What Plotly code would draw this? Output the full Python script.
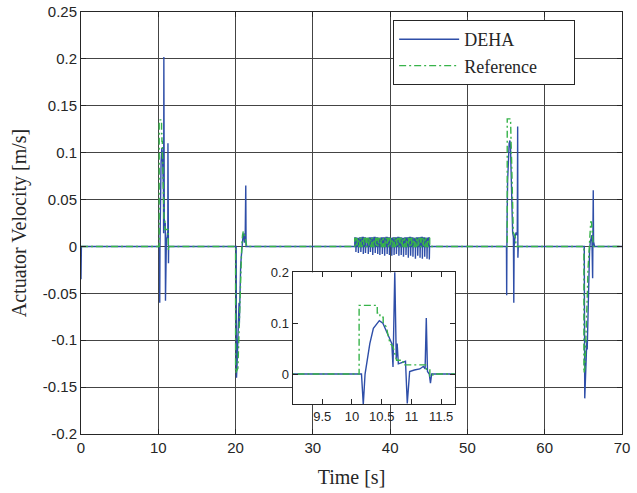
import plotly.graph_objects as go

# ---------------- data ----------------
# DEHA (measured actuator velocity), event by event [s], [m/s]
deha_t_start = [0.0, 0.05]
deha_v_start = [-0.035, 0.0]

deha_t_10 = [10.16, 10.19, 10.22, 10.25, 10.30, 10.36, 10.46, 10.52, 10.58, 10.64, 10.67, 10.69,
             10.72, 10.745, 10.76, 10.78, 10.84, 10.90, 10.93, 10.97, 11.05, 11.14, 11.20, 11.23,
             11.25, 11.27, 11.30, 11.32, 11.34]
deha_v_10 = [0.0, -0.060, 0.0, 0.02, 0.06, 0.09, 0.105, 0.10, 0.085, 0.07, 0.06, 0.014,
             0.202, 0.03, 0.06, 0.02, 0.022, 0.025, -0.058, 0.005, 0.008, 0.01, 0.015, 0.01,
             0.11, 0.005, 0.0, -0.018, 0.0]

deha_t_20 = [20.08, 20.12, 20.2, 20.3, 20.4, 20.45, 20.48, 20.55, 20.6, 20.66, 20.75, 20.85,
             20.95, 21.05, 21.15, 21.25, 21.32, 21.36]
deha_v_20 = [0.0, -0.14, -0.125, -0.1, -0.075, -0.06, -0.085, -0.045, -0.05, -0.02, -0.01, 0.005,
             0.01, 0.014, 0.004, 0.012, 0.065, 0.0]

deha_t_55 = [55.05, 55.08, 55.12, 55.2, 55.3, 55.4, 55.5, 55.58, 55.65, 55.72, 55.78, 55.85,
             55.95, 56.0, 56.04, 56.15, 56.3, 56.45, 56.5, 56.53, 56.58]
deha_v_55 = [0.0, -0.052, 0.02, 0.07, 0.1, 0.11, 0.113, 0.105, 0.08, 0.05, 0.02, 0.015,
             0.01, -0.06, 0.0, 0.01, 0.015, 0.012, 0.128, -0.012, 0.0]

deha_t_65 = [65.12, 65.18, 65.3, 65.4, 65.45, 65.5, 65.58, 65.65, 65.72, 65.8, 65.9, 66.0,
             66.1, 66.2, 66.28, 66.32, 66.45]
deha_v_65 = [0.0, -0.162, -0.14, -0.115, -0.1, -0.11, -0.07, -0.05, -0.02, -0.005, 0.005, 0.01,
             0.012, -0.034, 0.06, 0.005, 0.0]

# Reference velocity
ref_t_10 = [10.12, 10.12, 10.425, 10.425, 10.47, 10.47, 10.525, 10.525, 10.58, 10.60, 10.64, 10.69,
            10.72, 10.75, 10.86, 10.86, 11.25, 11.25, 11.31, 11.31, 11.36, 11.36]
ref_v_10 = [0.0, 0.135, 0.135, 0.12, 0.12, 0.112, 0.112, 0.099, 0.093, 0.08, 0.06, 0.054,
            0.04, 0.027, 0.027, 0.018, 0.018, 0.008, 0.008, -0.004, -0.004, 0.0]

ref_t_20 = [20.0, 20.0, 20.3, 20.4, 20.5, 20.6, 20.7, 20.8, 20.9, 21.0, 21.15, 21.3, 21.45]
ref_v_20 = [0.0, -0.135, -0.13, -0.1, -0.07, -0.04, -0.015, 0.0, 0.012, 0.016, 0.012, 0.004, 0.0]

ref_t_55 = [55.15, 55.15, 55.58, 55.58, 55.65, 55.72, 55.78, 55.85, 55.93, 56.2, 56.3]
ref_v_55 = [0.0, 0.136, 0.136, 0.125, 0.11, 0.09, 0.06, 0.03, 0.015, 0.01, 0.0]

ref_t_65 = [65.07, 65.07, 65.2, 65.3, 65.4, 65.5, 65.6, 65.7, 65.8, 65.95, 66.05, 66.15, 66.3]
ref_v_65 = [0.0, -0.135, -0.13, -0.11, -0.085, -0.055, -0.025, -0.005, 0.01, 0.026, 0.026, 0.012, 0.0]

# small oscillation between ~35 s and ~45 s: pulse start times, DEHA peaks / troughs
osc_t = [35.42, 35.74, 36.06, 36.38, 36.66, 37.02, 37.30, 37.60, 37.92, 38.24, 38.52, 38.84,
         39.14, 39.46, 39.76, 40.06, 40.36, 40.66, 40.98, 41.28, 41.58, 41.90, 42.20, 42.50,
         42.80, 43.12, 43.42, 43.72, 44.02, 44.32, 44.62, 44.92]
osc_hi = [0.009, 0.0085, 0.009, 0.0095, 0.009, 0.0085, 0.009, 0.009, 0.0095, 0.009, 0.0085, 0.009,
          0.009, 0.0095, 0.009, 0.0085, 0.009, 0.009, 0.0095, 0.009, 0.0085, 0.009, 0.009, 0.0095,
          0.009, 0.0085, 0.009, 0.009, 0.0095, 0.009, 0.0085, 0.009]
osc_lo = [-0.006, -0.007, -0.006, -0.008, -0.007, -0.008, -0.006, -0.009, -0.007, -0.008, -0.009, -0.008,
          -0.010, -0.008, -0.009, -0.010, -0.009, -0.008, -0.010, -0.009, -0.011, -0.009, -0.012, -0.010,
          -0.011, -0.013, -0.010, -0.012, -0.013, -0.011, -0.013, -0.014]
ref_osc_level = 0.0085
t_end = 70.0

# axis ticks
x_ticks = [0, 10, 20, 30, 40, 50, 60, 70]
x_tick_text = ["0", "10", "20", "30", "40", "50", "60", "70"]
y_ticks = [-0.2, -0.15, -0.1, -0.05, 0, 0.05, 0.1, 0.15, 0.2, 0.25]
y_tick_text = ["-0.2", "-0.15", "-0.1", "-0.05", "0", "0.05", "0.1", "0.15", "0.2", "0.25"]
inset_x_ticks = [9.5, 10, 10.5, 11, 11.5]
inset_x_text = ["9.5", "10", "10.5", "11", "11.5"]
inset_y_ticks = [0, 0.1, 0.2]
inset_y_text = ["0", "0.1", "0.2"]

# ---------------- assemble series ----------------
osc_deha_t, osc_deha_v, osc_ref_t, osc_ref_v = [], [], [], []
for t, hi, lo in zip(osc_t, osc_hi, osc_lo):
    osc_deha_t += [t, t + 0.01, t + 0.14, t + 0.15, t + 0.18]
    osc_deha_v += [0.0, hi, hi, lo, 0.0]
    osc_ref_t += [t, t, t + 0.2, t + 0.2]
    osc_ref_v += [0.0, ref_osc_level, ref_osc_level, 0.0]

deha_t = deha_t_start + deha_t_10 + deha_t_20 + osc_deha_t + deha_t_55 + deha_t_65 + [t_end]
deha_v = deha_v_start + deha_v_10 + deha_v_20 + osc_deha_v + deha_v_55 + deha_v_65 + [0.0]
ref_t = [0.0] + ref_t_10 + ref_t_20 + osc_ref_t + ref_t_55 + ref_t_65 + [t_end]
ref_v = [0.0] + ref_v_10 + ref_v_20 + osc_ref_v + ref_v_55 + ref_v_65 + [0.0]

BLUE = "#2E4EA8"
GREEN = "#37B34A"
DASH = "7px,3px,2px,3px"
SANS = "Liberation Sans, Arial, sans-serif"
SERIF = "Liberation Serif, Times New Roman, serif"
NB = "\u00a0"

fig = go.Figure()
fig.add_trace(go.Scatter(x=deha_t, y=deha_v, mode="lines", name="DEHA",
                         line=dict(color=BLUE, width=1.4)))
fig.add_trace(go.Scatter(x=ref_t, y=ref_v, mode="lines", name="Reference" + NB * 7,
                         line=dict(color=GREEN, width=1.4, dash=DASH)))
fig.add_trace(go.Scatter(x=deha_t, y=deha_v, mode="lines", showlegend=False,
                         line=dict(color=BLUE, width=1.4), xaxis="x2", yaxis="y2"))
fig.add_trace(go.Scatter(x=ref_t, y=ref_v, mode="lines", showlegend=False,
                         line=dict(color=GREEN, width=1.4, dash=DASH), xaxis="x2", yaxis="y2"))

axis_common = dict(showline=True, linecolor="#262626", linewidth=1, mirror="ticks",
                   ticks="inside", ticklen=5, tickcolor="#262626", zeroline=False,
                   automargin=False,
                   tickfont=dict(family=SANS, size=15, color="#262626"))
inset_common = {**axis_common, "tickfont": dict(family=SANS, size=13, color="#262626")}

fig.update_layout(
    width=637, height=493,
    margin=dict(l=81, r=15, t=12, b=59, autoexpand=False),
    paper_bgcolor="white", plot_bgcolor="white",
    showlegend=True,
    legend=dict(x=0.577, y=0.981, xanchor="left", yanchor="top",
                bgcolor="white", bordercolor="#262626", borderwidth=1,
                font=dict(family=SERIF, size=18, color="#262626"),
                itemwidth=60, tracegroupgap=0),
    xaxis=dict(range=[0, 70], tickvals=x_ticks, ticktext=x_tick_text,
               showgrid=True, gridcolor="#444444", gridwidth=1,
               title=dict(text="Time [s]", font=dict(family=SERIF, size=20, color="#262626"), standoff=14),
               **axis_common),
    yaxis=dict(range=[-0.2, 0.25], tickvals=y_ticks, ticktext=y_tick_text,
               showgrid=True, gridcolor="#444444", gridwidth=1,
               title=dict(text="Actuator Velocity [m/s]", font=dict(family=SERIF, size=20, color="#262626"), standoff=10),
               **axis_common),
    xaxis2=dict(domain=[0.391, 0.691], anchor="y2", range=[9.0, 11.73],
                tickvals=inset_x_ticks, ticktext=inset_x_text, showgrid=False, **inset_common),
    yaxis2=dict(domain=[0.071, 0.383], anchor="x2", range=[-0.059, 0.2],
                tickvals=inset_y_ticks, ticktext=inset_y_text, showgrid=False, **inset_common),
)

fig.write_html("out.html", config={"displayModeBar": False},
               post_script="document.body.style.margin='0';")
